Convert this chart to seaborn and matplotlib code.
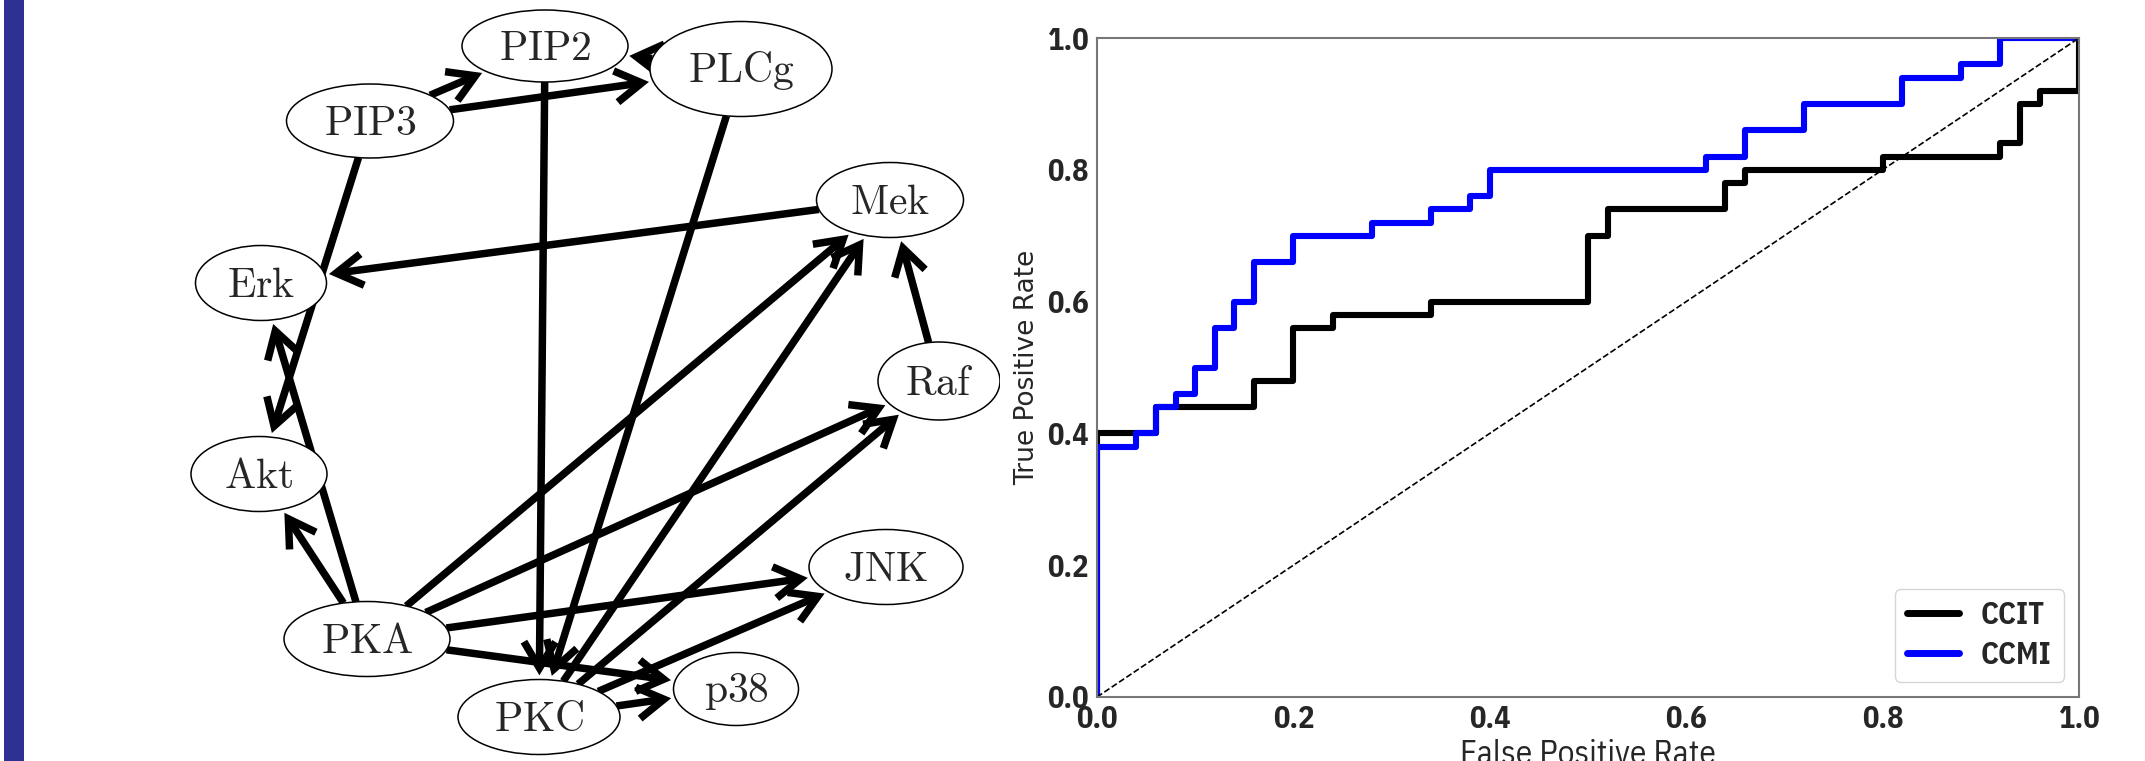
import numpy as np
import pandas as pd
import matplotlib
matplotlib.use("Agg")
import matplotlib.pyplot as plt
from matplotlib.patches import Ellipse, Rectangle
import seaborn as sns

# ---------------- data ----------------
# ROC curves (step corners, steps-post)
ccit_fpr = [0, 0, 0.06, 0.16, 0.20, 0.24, 0.34, 0.50, 0.52, 0.64, 0.66, 0.80, 0.92, 0.94, 0.96, 1.0, 1.0]
ccit_tpr = [0, 0.40, 0.44, 0.48, 0.56, 0.58, 0.60, 0.70, 0.74, 0.78, 0.80, 0.82, 0.84, 0.90, 0.92, 0.92, 1.0]
ccmi_fpr = [0, 0, 0.04, 0.06, 0.08, 0.10, 0.12, 0.14, 0.16, 0.20, 0.28, 0.34, 0.38, 0.40, 0.62, 0.66, 0.72, 0.82, 0.88, 0.92, 1.0]
ccmi_tpr = [0, 0.38, 0.40, 0.44, 0.46, 0.50, 0.56, 0.60, 0.66, 0.70, 0.72, 0.74, 0.76, 0.80, 0.82, 0.86, 0.90, 0.94, 0.96, 1.0, 1.0]
series_names = ["CCIT", "CCMI"]
ticks = [0.0, 0.2, 0.4, 0.6, 0.8, 1.0]
tick_labels = ["0.0", "0.2", "0.4", "0.6", "0.8", "1.0"]

# Network (layout positions in pixel space of the left panel)
node_names = ["PIP2", "PIP3", "PLCg", "Mek", "Erk", "Raf", "Akt", "JNK", "PKA", "p38", "PKC"]
node_x = [545, 370, 741, 890, 261, 939, 259, 886, 367, 736, 539]
node_y = [46, 121, 69, 200, 283, 381, 474, 567, 639, 689, 717]
node_w = [166, 167, 182, 147, 131, 122, 136, 154, 166, 125, 162]
node_h = [72, 74, 95, 75, 75, 78, 75, 75, 75, 73, 75]
edges_src = ["PIP3", "PIP3", "PLCg", "PIP3", "PIP2", "PLCg", "Mek", "Raf", "PKA", "PKA",
             "PKA", "PKA", "PKA", "PKA", "PKC", "PKC", "PKC", "PKC"]
edges_dst = ["PIP2", "PLCg", "PIP2", "Akt", "PKC", "PKC", "Erk", "Mek", "Erk", "Akt",
             "Mek", "Raf", "JNK", "p38", "Mek", "Raf", "JNK", "p38"]

# ---------------- figure ----------------
sns.set_style("white")
plt.rcParams["mathtext.fontset"] = "cm"
COND = "IBM Plex Sans Condensed"
W, H = 2145, 761
fig = plt.figure(figsize=(W / 100, H / 100), dpi=100)

# ---- left: network ----
axn = fig.add_axes([0, 0, 1000 / W, 1])
axn.set_xlim(0, 1000)
axn.set_ylim(H, 0)
axn.axis("off")
axn.add_patch(Rectangle((4, 0), 20, H, facecolor="#2e3192", edgecolor="none", clip_on=False))

pos = {n: (x, y, w / 2, h / 2) for n, x, y, w, h in zip(node_names, node_x, node_y, node_w, node_h)}


def boundary(n, dx, dy):
    x, y, a, b = pos[n]
    t = 1.0 / np.sqrt((dx / a) ** 2 + (dy / b) ** 2)
    return x + dx * t, y + dy * t


for s, d in zip(edges_src, edges_dst):
    sx, sy = pos[s][:2]
    dx_, dy_ = pos[d][:2]
    vx, vy = dx_ - sx, dy_ - sy
    L = np.hypot(vx, vy)
    ux, uy = vx / L, vy / L
    start = boundary(s, ux, uy)
    end = boundary(d, -ux, -uy)
    axn.annotate("", xy=end, xytext=start,
                 arrowprops=dict(arrowstyle="->,head_length=0.7,head_width=0.42",
                                 lw=5.4, color="black", shrinkA=0, shrinkB=3,
                                 mutation_scale=27, joinstyle="miter", capstyle="butt"),
                 zorder=2)

for n, x, y, w, h in zip(node_names, node_x, node_y, node_w, node_h):
    axn.add_patch(Ellipse((x, y), w, h, facecolor="white", edgecolor="black", lw=1.1, zorder=3))
    axn.text(x, y + 2, r"$\mathrm{" + n + "}$", ha="center", va="center", fontsize=30, zorder=4)

# ---- right: ROC ----
ax = fig.add_axes([1097 / W, 1 - 697 / H, (2079 - 1097) / W, (697 - 38) / H])
df_ccit = pd.DataFrame({"fpr": ccit_fpr, "tpr": ccit_tpr})
df_ccmi = pd.DataFrame({"fpr": ccmi_fpr, "tpr": ccmi_tpr})
sns.lineplot(data=df_ccit, x="fpr", y="tpr", estimator=None, sort=False, color="black",
             lw=4.4, drawstyle="steps-post", label=series_names[0], ax=ax)
sns.lineplot(data=df_ccmi, x="fpr", y="tpr", estimator=None, sort=False, color="blue",
             lw=4.4, drawstyle="steps-post", label=series_names[1], ax=ax)
ax.plot([0, 1], [0, 1], "k--", lw=1.2)
ax.set_xlim(0, 1)
ax.set_ylim(0, 1)
ax.set_xticks(ticks)
ax.set_yticks(ticks)
tfont = dict(family=COND, weight="bold", size=22)
ax.set_xticklabels(tick_labels, fontdict=tfont)
ax.set_yticklabels(tick_labels, fontdict=tfont)
ax.tick_params(axis="both", direction="out", length=4, width=1, color="#777777", pad=2)
for sp in ax.spines.values():
    sp.set_color("#777777")
    sp.set_linewidth(1.5)
ax.set_xlabel("False Positive Rate", family=COND, size=24, labelpad=3)
ax.set_ylabel("True Positive Rate", family="DejaVu Sans", size=19, labelpad=5)
leg = ax.legend(loc="lower right", prop=dict(family=COND, weight="bold", size=22),
                handlelength=1.7, borderaxespad=0.5, labelspacing=0.35, handletextpad=0.7)
for line in leg.get_lines():
    line.set_linewidth(5)

fig.savefig("out.png", dpi=100)
